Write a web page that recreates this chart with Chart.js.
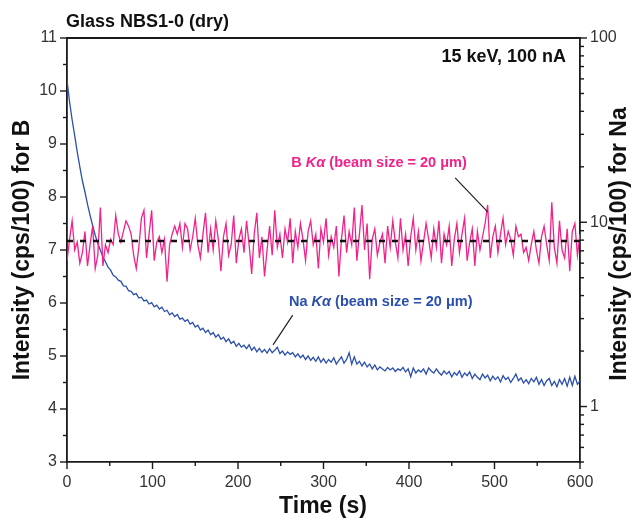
<!DOCTYPE html>
<html><head><meta charset="utf-8">
<script src="https://cdn.jsdelivr.net/npm/chart.js@4.4.0/dist/chart.umd.min.js"></script>
<style>html,body{margin:0;padding:0;background:#fff}#wrap{width:634px;height:522px;position:relative}</style>
</head><body><div id="wrap"><canvas id="c" width="634" height="522"></canvas></div>
<script>
// ---------- data ----------
const times = [0,3,6,9,12,15,18,21,24,27,
30,33,36,39,42,45,48,51,54,57,
60,63,66,69,72,75,78,81,84,87,
90,93,96,99,102,105,108,111,114,117,
120,123,126,129,132,135,138,141,144,147,
150,153,156,159,162,165,168,171,174,177,
180,183,186,189,192,195,198,201,204,207,
210,213,216,219,222,225,228,231,234,237,
240,243,246,249,252,255,258,261,264,267,
270,273,276,279,282,285,288,291,294,297,
300,303,306,309,312,315,318,321,324,327,
330,333,336,339,342,345,348,351,354,357,
360,363,366,369,372,375,378,381,384,387,
390,393,396,399,402,405,408,411,414,417,
420,423,426,429,432,435,438,441,444,447,
450,453,456,459,462,465,468,471,474,477,
480,483,486,489,492,495,498,501,504,507,
510,513,516,519,522,525,528,531,534,537,
540,543,546,549,552,555,558,561,564,567,
570,573,576,579,582,585,588,591,594,597,
600];

// B Ka intensity (cps/100), left axis
const bValues = [6.8,7.2,7.55,7.0,7.15,6.75,6.95,7.35,6.7,7.1,
7.45,6.65,6.9,7.8,6.7,7.1,6.95,7.2,7.1,7.65,
7.3,7.15,7.35,7.55,7.45,7.3,6.9,6.65,7.05,7.6,
7.75,6.85,7.3,7.75,6.8,7.15,7.25,6.95,7.2,6.4,
7.1,7.3,7.45,7.3,7.5,7.05,7.5,7.4,7.0,7.25,
7.6,7.1,6.85,7.3,7.7,6.95,7.4,7.0,7.55,7.2,
6.6,7.25,7.5,6.9,7.1,7.65,6.75,7.2,7.4,6.95,
7.55,7.1,6.55,7.3,7.7,6.85,7.25,6.5,7.0,7.45,
6.9,7.75,7.05,7.3,6.85,7.4,7.15,7.6,6.75,7.35,
7.05,7.5,7.2,6.8,7.35,7.55,7.1,7.3,6.65,7.4,
7.15,7.6,6.9,7.25,7.05,7.45,6.5,7.2,7.65,6.95,
7.35,7.1,7.8,6.8,7.3,7.85,7.0,7.5,6.45,7.2,
7.4,6.9,7.15,7.3,6.75,7.45,7.05,7.55,7.15,6.85,
7.6,7.0,7.3,6.7,7.25,7.6,7.0,7.35,6.8,7.15,
7.5,7.2,6.85,7.4,7.05,7.55,6.75,7.3,7.1,7.45,
6.7,7.2,7.5,6.95,7.3,7.6,6.8,7.15,7.4,6.7,
7.35,7.0,7.25,7.5,7.85,6.85,7.25,7.45,6.95,7.3,
7.6,7.1,7.35,7.2,6.9,7.45,7.25,7.3,6.95,7.05,
6.8,7.1,7.35,7.0,6.75,7.25,7.45,7.1,6.8,7.9,
7.05,6.75,7.55,7.0,6.85,7.4,6.6,7.35,7.5,6.9,
7.3];

// Na Ka intensity (cps/100), right log axis
const naValues = [59,45,36,29.5,24,20,16.8,14.6,12.5,10.9,
9.6,8.5,7.7,7.05,6.5,6.1,5.7,5.5,5.15,5.05,
4.85,4.78,4.52,4.5,4.25,4.22,4.05,4.1,3.88,3.92,
3.74,3.78,3.6,3.66,3.48,3.55,3.38,3.46,3.28,3.33,
3.15,3.22,3.08,3.16,2.98,3.02,2.9,2.96,2.8,2.86,
2.7,2.76,2.6,2.66,2.52,2.6,2.45,2.52,2.38,2.46,
2.32,2.38,2.25,2.33,2.2,2.26,2.12,2.2,2.1,2.15,
2.06,2.16,2.02,2.1,1.98,2.07,1.97,2.04,1.95,2.06,
1.96,2.02,2.1,1.94,2.0,1.9,1.98,1.92,1.96,1.86,
1.93,1.84,1.9,1.8,1.88,1.78,1.85,1.76,1.86,1.74,
1.82,1.72,1.8,1.74,1.84,1.7,1.78,1.86,1.72,1.8,
1.96,1.7,1.86,1.7,1.76,1.66,1.74,1.64,1.7,1.6,
1.68,1.58,1.64,1.6,1.56,1.63,1.58,1.62,1.55,1.6,
1.57,1.63,1.54,1.6,1.45,1.62,1.52,1.58,1.54,1.6,
1.5,1.62,1.56,1.52,1.6,1.53,1.48,1.56,1.5,1.55,
1.45,1.53,1.48,1.56,1.44,1.52,1.47,1.54,1.42,1.5,
1.44,1.4,1.5,1.43,1.48,1.38,1.46,1.4,1.45,1.36,
1.47,1.4,1.44,1.35,1.42,1.5,1.38,1.43,1.34,1.4,
1.33,1.42,1.36,1.44,1.32,1.4,1.3,1.38,1.42,1.3,
1.37,1.28,1.4,1.32,1.42,1.29,1.44,1.3,1.46,1.32,
1.38];

const bMean = 7.17;
const timeRange = [0, 600];
const leftRange = [3, 11];
const rightRange = [0.5, 100];
const bottomTicks = [0,100,200,300,400,500,600];
const bottomMinor = [50,150,250,350,450,550];
const leftTicks = [3,4,5,6,7,8,9,10,11];
const leftMinor = [3.5,4.5,5.5,6.5,7.5,8.5,9.5,10.5];
const rightTicks = [1,10,100];
const rightMinor = [0.5,0.6,0.7,0.8,0.9,2,3,4,5,6,7,8,9,20,30,40,50,60,70,80,90];

// annotation anchors in data units
const bLabel = {t:365, v:8.64, text:['B ','K\u03b1',' (beam size = 20 \u03bcm)']};
const naLabel = {t:367, v:6.02, text:['Na ','K\u03b1',' (beam size = 20 \u03bcm)']};
const bPointer = [[454,8.36],[492,7.72]];
const naPointer = [[264,5.77],[241,5.21]];

// ---------- chart ----------
const FONT = "'Liberation Sans', Arial, Helvetica, sans-serif";
const PINK = '#f2228a';
const BLUE = '#2b4fae';

const decor = {
  id: 'decor',
  afterDatasetsDraw(chart) {
    const {ctx, chartArea: a, scales: {x, y, y2}} = chart;
    ctx.save();
    ctx.strokeStyle = '#1a1a1a';
    ctx.lineWidth = 1.8;
    ctx.beginPath(); ctx.moveTo(a.left - 1, a.top); ctx.lineTo(a.right + 1, a.top); ctx.stroke();
    ctx.lineWidth = 1.4;
    const seg = (x1, y1, x2, y2_) => { ctx.beginPath(); ctx.moveTo(x1, y1); ctx.lineTo(x2, y2_); ctx.stroke(); };
    leftTicks.forEach(v => { const p = y.getPixelForValue(v); seg(a.left, p, a.left - 7, p); });
    leftMinor.forEach(v => { const p = y.getPixelForValue(v); seg(a.left, p, a.left - 4, p); });
    bottomTicks.forEach(v => { const p = x.getPixelForValue(v); seg(p, a.bottom, p, a.bottom + 7); });
    bottomMinor.forEach(v => { const p = x.getPixelForValue(v); seg(p, a.bottom, p, a.bottom + 4); });
    rightTicks.forEach(v => { const p = y2.getPixelForValue(v); seg(a.right, p, a.right + 7, p); });
    rightMinor.forEach(v => { const p = y2.getPixelForValue(v); seg(a.right, p, a.right + 4, p); });
    // pointers
    ctx.strokeStyle = '#222'; ctx.lineWidth = 1.2;
    [bPointer, naPointer].forEach(pp => {
      seg(x.getPixelForValue(pp[0][0]), y.getPixelForValue(pp[0][1]),
          x.getPixelForValue(pp[1][0]), y.getPixelForValue(pp[1][1]));
    });
    ctx.restore();
  },
  afterDraw(chart) {
    const {ctx, chartArea: a, scales: {x, y}} = chart;
    ctx.save();
    ctx.fillStyle = '#111';
    ctx.textBaseline = 'middle';
    ctx.font = 'bold 18px ' + FONT;
    ctx.textAlign = 'left';
    ctx.fillText('Glass NBS1-0 (dry)', 66, 22);
    ctx.textAlign = 'right';
    ctx.fillText('15 keV, 100 nA', 566, 57);
    // axis titles
    ctx.font = 'bold 23px ' + FONT;
    ctx.textAlign = 'center';
    ctx.fillText('Time (s)', 323, 507);
    ctx.font = 'bold 23px ' + FONT;
    ctx.save(); ctx.translate(23, 250); ctx.rotate(-Math.PI / 2);
    ctx.fillText('Intensity (cps/100) for B', 0, 0); ctx.restore();
    ctx.save(); ctx.translate(620, 244); ctx.rotate(-Math.PI / 2);
    ctx.fillText('Intensity (cps/100) for Na', 0, 0); ctx.restore();
    // series labels
    const drawLabel = (lab, color) => {
      const fonts = ['bold 14.5px ' + FONT, 'italic bold 14.5px ' + FONT, 'bold 14.5px ' + FONT];
      let w = 0;
      lab.text.forEach((s, i) => { ctx.font = fonts[i]; w += ctx.measureText(s).width; });
      let cx = x.getPixelForValue(lab.t) - w / 2;
      const cy = y.getPixelForValue(lab.v);
      ctx.fillStyle = color; ctx.textAlign = 'left';
      lab.text.forEach((s, i) => { ctx.font = fonts[i]; ctx.fillText(s, cx, cy); cx += ctx.measureText(s).width; });
    };
    drawLabel(bLabel, PINK);
    drawLabel(naLabel, BLUE);
    ctx.restore();
  }
};

const tickFont = {family: FONT, size: 16};
const tickColor = '#333';
const bData = times.map((t, i) => ({x: t, y: bValues[i]}));
const naData = times.map((t, i) => ({x: t, y: naValues[i]}));
const meanData = [{x: timeRange[0], y: bMean}, {x: timeRange[1], y: bMean}];

new Chart(document.getElementById('c'), {
  type: 'line',
  data: {
    datasets: [
      {label: 'B mean', data: meanData, yAxisID: 'y', borderColor: '#111', borderWidth: 2.4,
       borderDash: [6, 7], pointRadius: 0, order: 0},
      {label: 'B Ka', data: bData, yAxisID: 'y', borderColor: PINK, borderWidth: 1.3,
       pointRadius: 0, tension: 0, order: 1},
      {label: 'Na Ka', data: naData, yAxisID: 'y2', borderColor: BLUE, borderWidth: 1.3,
       pointRadius: 0, tension: 0, order: 2}
    ]
  },
  options: {
    responsive: false,
    animation: false,
    devicePixelRatio: 1,
    layout: {padding: {top: 38, left: 0, right: 0, bottom: 0}},
    plugins: {legend: {display: false}, tooltip: {enabled: false}},
    scales: {
      x: {
        type: 'linear', position: 'bottom', min: timeRange[0], max: timeRange[1],
        grid: {display: false, drawTicks: false},
        border: {display: true, color: '#1a1a1a', width: 1.8},
        afterBuildTicks: s => { s.ticks = bottomTicks.map(v => ({value: v})); },
        ticks: {font: tickFont, color: tickColor, padding: 11, maxRotation: 0, autoSkip: false},
        afterFit: s => { s.height = 60; }
      },
      y: {
        type: 'linear', position: 'left', min: leftRange[0], max: leftRange[1],
        grid: {display: false, drawTicks: false},
        border: {display: true, color: '#1a1a1a', width: 1.8},
        afterBuildTicks: s => { s.ticks = leftTicks.map(v => ({value: v})); },
        ticks: {font: tickFont, color: tickColor, padding: 10, autoSkip: false},
        afterFit: s => { s.width = 67; }
      },
      y2: {
        type: 'logarithmic', position: 'right', min: rightRange[0], max: rightRange[1],
        grid: {display: false, drawTicks: false},
        border: {display: true, color: '#1a1a1a', width: 1.8},
        afterBuildTicks: s => { s.ticks = rightTicks.map(v => ({value: v})); },
        ticks: {font: tickFont, color: tickColor, padding: 10, autoSkip: false,
                callback: v => String(v)},
        afterFit: s => { s.width = 54; }
      }
    }
  },
  plugins: [decor]
});
</script>
</body></html>
